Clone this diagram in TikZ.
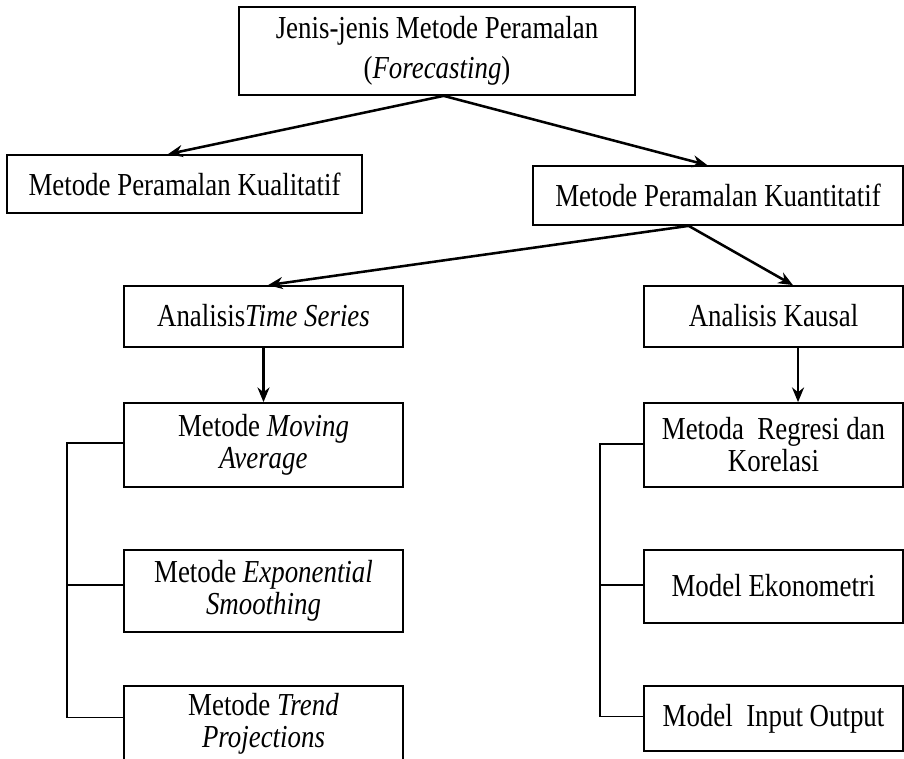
\documentclass[tikz,border=0pt]{standalone}
\usepackage{fontspec}
\setmainfont{Liberation Serif}[FakeStretch=0.84]
\usepackage{tikz}
\usetikzlibrary{arrows.meta,positioning}

\begin{document}
\begin{tikzpicture}[x=0.75pt, y=-0.75pt,
  box/.style={draw, line width=1.3pt, inner sep=2pt, align=center,
    font=\fontsize{24}{24}\selectfont},
  arr/.style={-{Stealth[length=11pt,width=9pt]}, line width=1.9pt},
  link/.style={line width=1.2pt}]

\clip (0,0) rectangle (904,759);

% --- Level 1 ---
\node[box, minimum width=297pt, minimum height=66pt]
  (top) at (437,51) {Jenis-jenis Metode Peramalan\\[6pt](\textit{Forecasting})};

% --- Level 2 ---
\node[box, minimum width=266pt, minimum height=43.5pt]
  (kual) at (184.5,184) {Metode Peramalan Kualitatif};
\node[box, minimum width=277.5pt, minimum height=44.25pt]
  (kuan) at (718,195.5) {Metode Peramalan Kuantitatif};

% Arrows 1->2
\draw[arr] ([xshift=5pt]top.south) -- ([xshift=-12.4pt]kual.north);
\draw[arr] ([xshift=5pt]top.south) -- ([xshift=-8pt]kuan.north);

% --- Level 3 ---
\node[box, minimum width=209.25pt, minimum height=45.75pt]
  (ts) at (263.5,316.5) {\raisebox{2pt}{Analisis\textit{Time Series}}};
\node[box, minimum width=194.25pt, minimum height=45.75pt]
  (kausal) at (773.5,316.5) {\raisebox{2pt}{Analisis Kausal}};

% Arrows 2->3
\draw[arr] ([xshift=-22pt]kuan.south) -- ([xshift=3.4pt]ts.north);
\draw[arr] ([xshift=-22pt]kuan.south) -- ([xshift=14.6pt]kausal.north);

% --- Time series methods ---
\node[box, minimum width=209.25pt, minimum height=63pt]
  (ma) at (263.5,445) {Metode \textit{Moving}\\\textit{Average}};
\node[box, minimum width=209.25pt, minimum height=61.5pt]
  (exp) at (263.5,591) {Metode \textit{Exponential}\\\textit{Smoothing}};
\node[box, minimum width=209.25pt, minimum height=57pt]
  (trend) at (263.5,724) {Metode \textit{Trend}\\\textit{Projections}};

% --- Causal methods ---
\node[box, minimum width=194.25pt, minimum height=63pt]
  (reg) at (773.5,445) {Metoda\ \ Regresi dan\\Korelasi};
\node[box, minimum width=194.25pt, minimum height=54.75pt]
  (ekon) at (773.5,586.5) {\raisebox{2pt}{Model Ekonometri}};
\node[box, minimum width=194.25pt, minimum height=48.75pt]
  (io) at (773.5,718.5) {\raisebox{5pt}{Model\ \ Input Output}};

% Arrows 3->4
\draw[arr] (ts.south) -- (ma.north);
\draw[arr] ([xshift=18.4pt]kausal.south) -- ([xshift=18.4pt]reg.north);

% Brackets
\draw[link] ([yshift=1.5pt]ma.west) -- ++(-56,0) |- ([yshift=5pt]trend.west);
\draw[link] ([yshift=4.5pt]exp.west) -- ++(-56,0);
\draw[link] ([yshift=0.75pt]reg.west) -- ++(-43,0) |- ([yshift=1.5pt]io.west);
\draw[link] ([yshift=1pt]ekon.west) -- ++(-43,0);

\end{tikzpicture}
\end{document}
